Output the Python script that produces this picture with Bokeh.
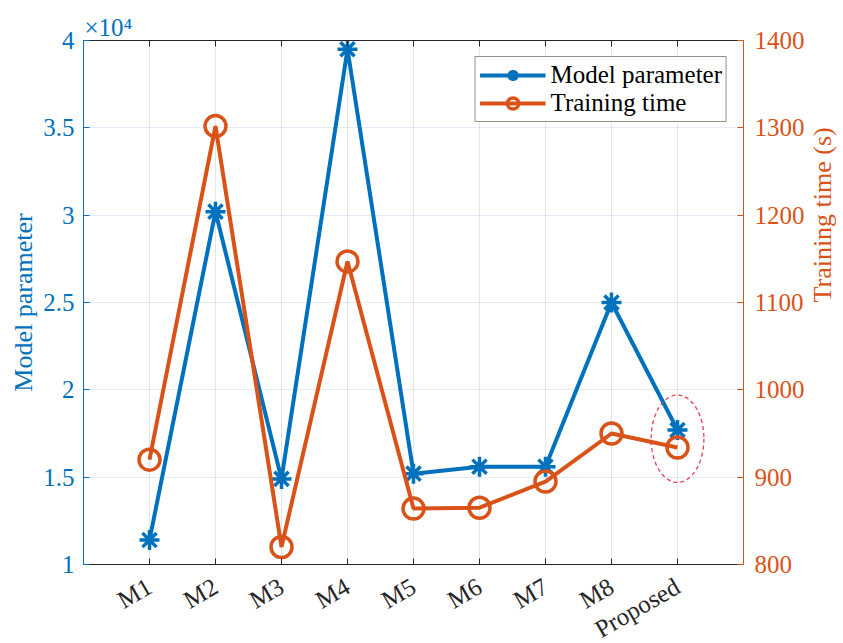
import math
from bokeh.plotting import figure
from bokeh.models import (Range1d, LinearAxis, FixedTicker, Legend, LegendItem)
from bokeh.embed import file_html
from bokeh.resources import INLINE

# ---- data ----
categories = ["M1", "M2", "M3", "M4", "M5", "M6", "M7", "M8", "Proposed"]
x_pos = [1, 2, 3, 4, 5, 6, 7, 8, 9]
model_parameter = [11400, 30200, 14900, 39500, 15200, 15600, 15600, 25000, 17700]
training_time = [920, 1302, 820, 1147, 864, 865, 895, 950, 934]
left_ticks = [10000, 15000, 20000, 25000, 30000, 35000, 40000]
left_tick_labels = ["1", "1.5", "2", "2.5", "3", "3.5", "4"]
right_ticks = [800, 900, 1000, 1100, 1200, 1300, 1400]
highlight_x = 9
highlight_y = 17200
highlight_w = 0.8
highlight_h = 5000

BLUE = "#0072BD"
ORANGE = "#D95319"
DARK = "#262626"
FONT = "Liberation Serif"

p = figure(frame_width=660, frame_height=524,
           x_range=Range1d(0, 10), y_range=Range1d(10000, 40000),
           output_backend="svg", toolbar_location=None,
           title="×10⁴",
           min_border_left=83, min_border_right=96,
           min_border_top=40, min_border_bottom=78,
           background_fill_color="white", border_fill_color="white")
p.outline_line_color = None
p.title.align = "left"
p.title.text_font = FONT
p.title.text_font_size = "25px"
p.title.text_font_style = "normal"
p.title.text_color = BLUE
p.title.standoff = 0
p.title.offset = 1

# grids
p.xgrid.ticker = FixedTicker(ticks=x_pos)
p.xgrid.grid_line_color = "#000000"
p.xgrid.grid_line_alpha = 0.1
p.ygrid.ticker = FixedTicker(ticks=left_ticks)
p.ygrid.grid_line_color = "#3A86C8"
p.ygrid.grid_line_alpha = 0.15

# bottom axis
xa = p.xaxis[0]
xa.ticker = FixedTicker(ticks=x_pos)
xa.major_label_overrides = {x: c for x, c in zip(x_pos, categories)}
xa.major_label_orientation = math.pi / 6
xa.major_label_text_font = FONT
xa.major_label_text_font_size = "25px"
xa.major_label_text_line_height = 0.4
xa.major_label_text_color = DARK
xa.axis_line_color = DARK
xa.major_tick_line_color = DARK
xa.major_tick_in = 6
xa.major_tick_out = 0
xa.minor_tick_line_color = None
xa.major_label_standoff = 20

# left axis
ya = p.yaxis[0]
ya.ticker = FixedTicker(ticks=left_ticks)
ya.major_label_overrides = {t: l for t, l in zip(left_ticks, left_tick_labels)}
ya.major_label_text_font = FONT
ya.major_label_text_font_size = "25px"
ya.major_label_text_color = BLUE
ya.axis_line_color = BLUE
ya.major_tick_line_color = BLUE
ya.major_tick_in = 6
ya.major_tick_out = 0
ya.minor_tick_line_color = None
ya.major_label_standoff = 9
ya.axis_label = "Model parameter"
ya.axis_label_text_font = FONT
ya.axis_label_text_font_style = "normal"
ya.axis_label_text_font_size = "26px"
ya.axis_label_text_color = BLUE
ya.axis_label_standoff = 2

# right axis
p.extra_y_ranges = {"time": Range1d(800, 1400)}
ra = LinearAxis(y_range_name="time", ticker=FixedTicker(ticks=right_ticks))
ra.major_label_text_font = FONT
ra.major_label_text_font_size = "25px"
ra.major_label_text_color = ORANGE
ra.axis_line_color = ORANGE
ra.major_tick_line_color = ORANGE
ra.major_tick_in = 6
ra.major_tick_out = 0
ra.minor_tick_line_color = None
ra.major_label_standoff = 11
ra.axis_label = "Training time (s)"
ra.axis_label_text_font = FONT
ra.axis_label_text_font_style = "normal"
ra.axis_label_text_font_size = "26px"
ra.axis_label_text_color = ORANGE
ra.axis_label_standoff = 15
try:
    ra.axis_label_orientation = math.pi / 2
except Exception:
    pass
p.add_layout(ra, "right")

# top axis (ticks only)
ta = LinearAxis(ticker=FixedTicker(ticks=x_pos))
ta.major_label_text_font_size = "0px"
ta.major_label_text_alpha = 0
ta.axis_line_color = DARK
ta.major_tick_line_color = DARK
ta.major_tick_in = 6
ta.major_tick_out = 0
ta.minor_tick_line_color = None
ta.major_label_standoff = 0
p.add_layout(ta, "above")

# series
l1 = p.line(x_pos, model_parameter, line_color=BLUE, line_width=4)
s1 = p.scatter(x_pos, model_parameter, marker="asterisk", size=20,
               line_color=BLUE, line_width=3.5)
l2 = p.line(x_pos, training_time, line_color=ORANGE, line_width=4,
            y_range_name="time")
s2 = p.scatter(x_pos, training_time, marker="circle", size=21,
               line_color=ORANGE, fill_color=None, line_width=3.5,
               y_range_name="time")

# highlight ellipse
p.ellipse(x=[highlight_x], y=[highlight_y], width=[highlight_w], height=[highlight_h],
          fill_color=None, line_color="#E8404E", line_dash="4 3", line_width=1.3)

legend = Legend(items=[LegendItem(label="Model parameter", renderers=[l1, s1]),
                       LegendItem(label="Training time", renderers=[l2, s2])],
                location="top_right")
legend.label_text_font = FONT
legend.label_text_font_size = "25px"
legend.label_text_color = "black"
legend.border_line_color = DARK
legend.border_line_width = 1
legend.glyph_width = 66
legend.glyph_height = 28
legend.label_height = 28
legend.label_standoff = 5
legend.padding = 4
legend.spacing = 0
legend.margin = 16
legend.background_fill_color = "white"
legend.background_fill_alpha = 1
p.add_layout(legend)

open("out.html", "w").write(file_html(p, INLINE))
